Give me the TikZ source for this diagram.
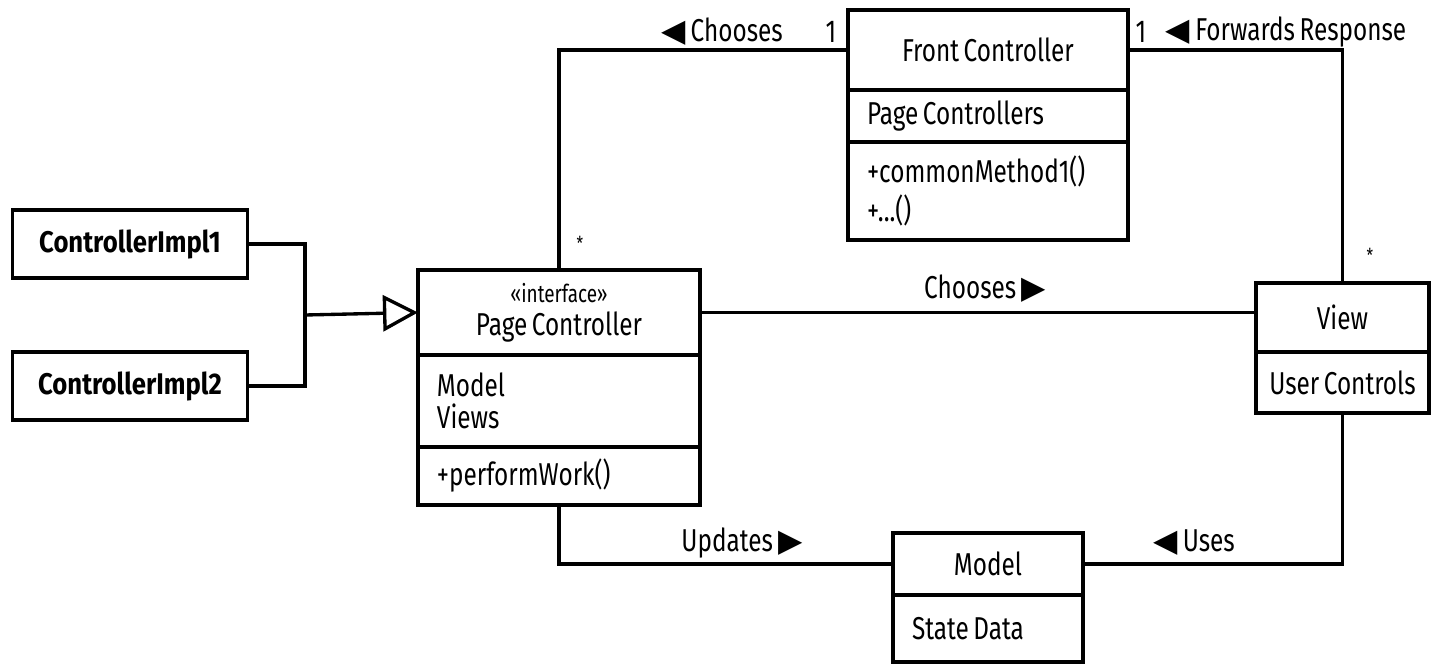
\documentclass[tikz,border=0pt]{standalone}
\usepackage{fontspec}
\setmainfont{Fira Sans}[FakeStretch=0.77, WordSpace=0.7]
\newfontfamily\implfont{Fira Sans}[FakeStretch=0.86]
\newfontfamily\symfont{DejaVu Sans}
\usetikzlibrary{positioning,arrows.meta}

\begin{document}
\begin{tikzpicture}[x=0.02cm, y=-0.02cm,
	every node/.style={font=\fontsize{18}{18}\selectfont},
	line/.style={line width=1.9pt},
	part/.style={draw, line width=1.9pt, inner sep=0pt, outer sep=0pt, minimum height=#1},
	midpart/.style 2 args={part=#2, text width=#1, align=flush center},
	leftpart/.style 2 args={part=#2, text width=#1-0.76cm, inner xsep=0.38cm, align=flush left},
	implbox/.style={draw, line width=1.9pt, minimum width=4.7cm, minimum height=1.36cm, font=\fontsize{17}{18}\implfont\bfseries},
	tag/.style={inner sep=1pt}
]
	\useasboundingbox (0,0) rectangle (1431,665);

	% implementations
	\node [implbox] (ci1) at (130,244) {ControllerImpl1};
	\node [implbox] (ci2) at (130,386) {ControllerImpl2};
	\coordinate (join) at (305,315);

	% page controller
	\node [midpart={5.64cm}{1.7cm}, anchor=north west] (pchead) at (418,270) {{\fontsize{14}{14}\selectfont «interface»}\\[1pt]Page Controller};
	\node [leftpart={5.64cm}{1.84cm}, below=0pt of pchead] (pcattr) {Model\\Views};
	\node [leftpart={5.64cm}{1.16cm}, below=0pt of pcattr] (pcops) {+performWork()};

	% front controller
	\node [midpart={5.6cm}{1.6cm}, anchor=north west] (fchead) at (848,10) {Front Controller};
	\node [leftpart={5.6cm}{1.04cm}, below=0pt of fchead] (fcattr) {Page Controllers};
	\node [leftpart={5.6cm}{1.96cm}, below=0pt of fcattr] (fcops) {+commonMethod1()\\[4pt]+...()};

	% view
	\node [midpart={3.46cm}{1.38cm}, anchor=north west] (vhead) at (1256,283) {View};
	\node [midpart={3.46cm}{1.22cm}, below=0pt of vhead] (vattr) {User Controls};

	% model
	\node [midpart={3.8cm}{1.24cm}, anchor=north west] (mhead) at (893,533) {Model};
	\node [leftpart={3.8cm}{1.34cm}, below=0pt of mhead] (mattr) {State Data};

	% generalization
	\draw [line] (ci1.east) -| (join) |- (ci2.east);
	\draw [line, -{Triangle[open, length=0.7cm, width=0.72cm, line width=1.9pt]}] (join) -- (pchead.west);

	% associations
	\draw [line] (fchead.west) -| (pchead.north);
	\draw [line] (fchead.east) -| (vhead.north);
	\draw [line] (pchead.east) -- (pchead.east -| vhead.west);
	\draw [line] (pcops.south) |- (mhead.west);
	\draw [line] (vattr.south) |- (mhead.east);

	% labels
	\node [tag] (lchoosefc) at (722,32) {{\symfont ◀}\,Chooses};
	\node [tag] (mfc1) at (831,32) {1};
	\node [tag] (mpc) at (580,243) {\fontsize{11}{12}\selectfont *};
	\node [tag] (mfc2) at (1141,32) {1};
	\node [tag] (lforward) at (1286,32) {{\symfont ◀}\,Forwards Response};
	\node [tag] (mview) at (1370,255) {\fontsize{11}{12}\selectfont *};
	\node [tag] (lchooseview) at (985,289) {Chooses\,{\symfont ▶}};
	\node [tag] (lupdates) at (742,543) {Updates\,{\symfont ▶}};
	\node [tag] (luses) at (1194,543) {{\symfont ◀}\,Uses};
\end{tikzpicture}
\end{document}
